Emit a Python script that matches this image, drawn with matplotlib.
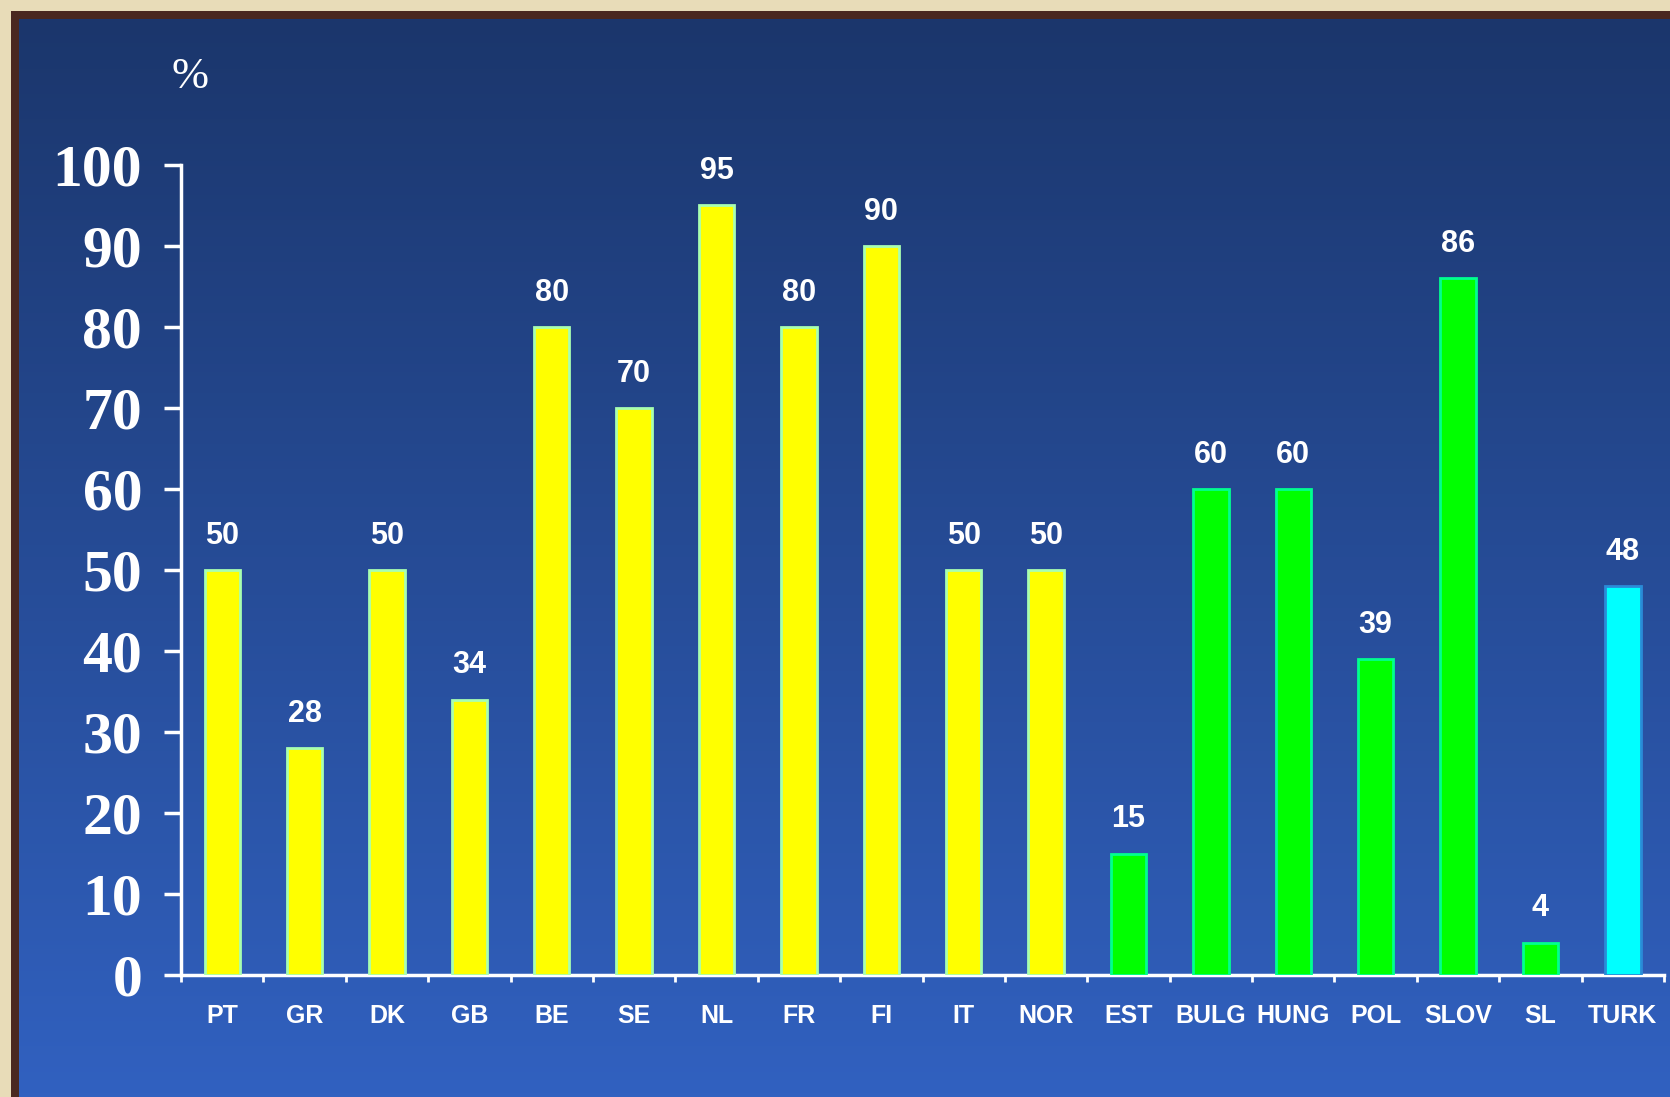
import numpy as np
import matplotlib.pyplot as plt
from matplotlib.patches import Rectangle

countries = ["PT", "GR", "DK", "GB", "BE", "SE", "NL", "FR", "FI", "IT", "NOR",
             "EST", "BULG", "HUNG", "POL", "SLOV", "SL", "TURK"]
values = [50, 28, 50, 34, 80, 70, 95, 80, 90, 50, 50, 15, 60, 60, 39, 86, 4, 48]
groups = ["old"] * 11 + ["new"] * 6 + ["cand"]
yticks = [0, 10, 20, 30, 40, 50, 60, 70, 80, 90, 100]

face = {"old": "#FFFF00", "new": "#00FF00", "cand": "#00FFFF"}
edge = {"old": "#A8FFB0", "new": "#00FF90", "cand": "#2A8CD8"}

fig = plt.figure(figsize=(16.7, 10.97), dpi=100, facecolor="#E8DCB8")

# dark frame line on top / left
fig.patches.append(Rectangle((0.0066, 0), 1, 1 - 0.010, transform=fig.transFigure,
                             facecolor="#4A2820", edgecolor="none", zorder=-5))

# gradient background
bg = fig.add_axes([0.0114, 0, 1 - 0.0114, 1 - 0.0173])
bg.set_zorder(-1)
grad = np.linspace(0, 1, 256).reshape(-1, 1)
top = np.array([0x1B, 0x36, 0x6C]) / 255
bot = np.array([0x31, 0x61, 0xC0]) / 255
img = top + (bot - top) * grad[..., None]
bg.imshow(img, aspect="auto", extent=[0, 1, 0, 1], origin="upper")
bg.axis("off")

ax = fig.add_axes([0.1084, 0.1112, 0.9964 - 0.1084, 0.8496 - 0.1112])
ax.patch.set_alpha(0)

x = np.arange(len(countries))
ax.bar(x, values, width=0.43,
       color=[face[g] for g in groups],
       edgecolor=[edge[g] for g in groups], linewidth=2, zorder=3)

for xi, v in zip(x, values):
    ax.annotate(str(v), (xi, v), xytext=(0, 19), textcoords="offset points",
                ha="center", va="baseline", color="white", fontsize=22,
                fontweight="bold", family="Liberation Sans")

ax.set_xlim(-0.5, len(countries) - 0.5)
ax.set_ylim(0, 100)

for s in ["top", "right"]:
    ax.spines[s].set_visible(False)
for s in ["left", "bottom"]:
    ax.spines[s].set_color("white")
    ax.spines[s].set_linewidth(2.5)

ax.set_yticks(yticks)
ax.set_yticklabels([str(t) for t in yticks], family="Liberation Serif",
                   fontweight="bold", fontsize=43, color="white")
ax.tick_params(axis="y", length=12, width=2.5, color="white", pad=16)

ax.set_xticks(x)
ax.set_xticklabels(countries, family="Liberation Sans", fontweight="bold",
                   fontsize=18, color="white")
ax.set_xticks(np.arange(-0.5, len(countries)), minor=True)
ax.tick_params(axis="x", which="major", length=0, pad=21)
ax.tick_params(axis="x", which="minor", length=5, width=2, color="white")

fig.text(0.1135, 0.930, "%", family="Liberation Serif",
         fontsize=32, color="white", ha="center", va="center")

fig.savefig("out.png", dpi=100, facecolor=fig.get_facecolor())
